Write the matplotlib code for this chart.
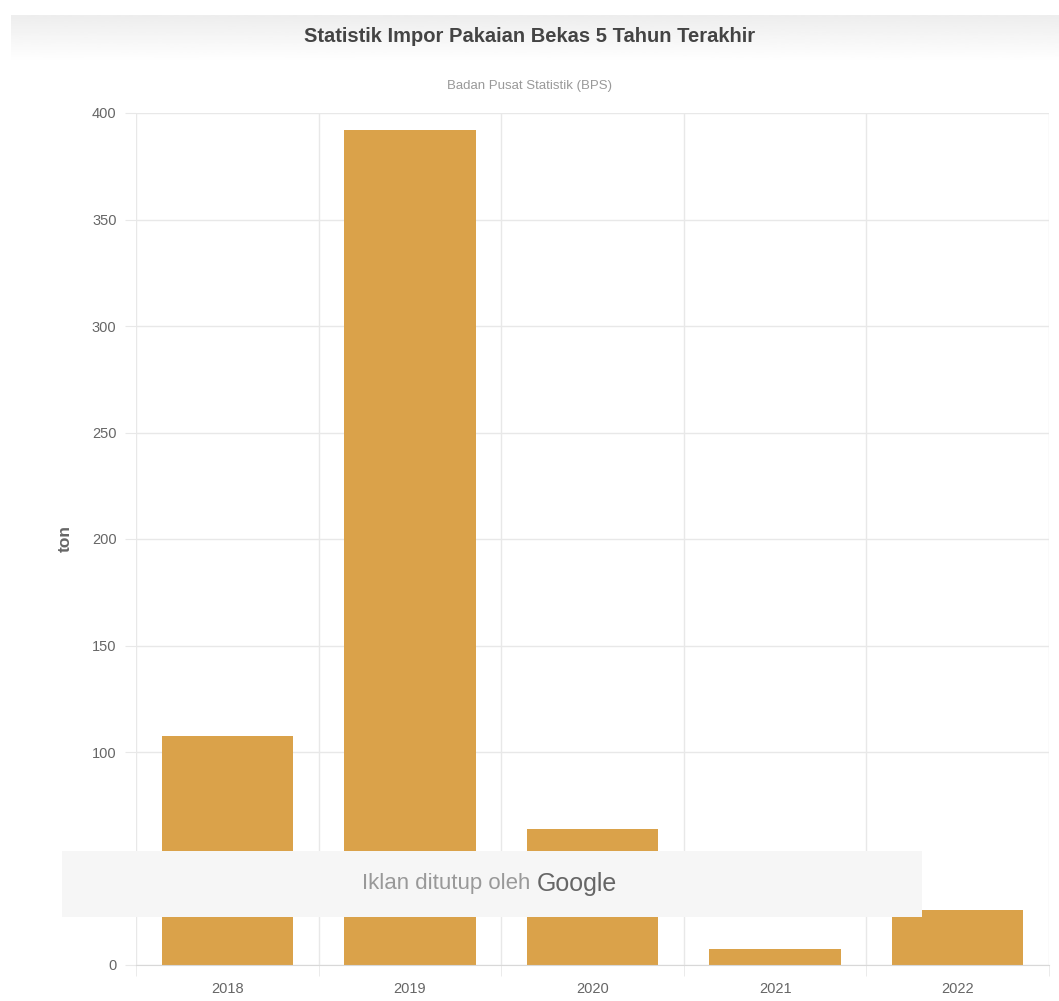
import numpy as np
import matplotlib
matplotlib.use('Agg')
import matplotlib.pyplot as plt
from matplotlib.patches import Rectangle

plt.rcParams['font.family'] = ['Liberation Sans', 'DejaVu Sans']

years = ['2018', '2019', '2020', '2021', '2022']
import_ton = [107.5, 392, 63.8, 7.5, 25.8]
y_ticks = [0, 100, 150, 200, 250, 300, 350, 400]

bar_color = '#DAA24A'
grid_color = '#e8e8e8'
text_grey = '#666666'

fig = plt.figure(figsize=(10.59, 10.01), dpi=100)
fig.patch.set_facecolor('white')

# header band with soft vertical gradient
hdr = fig.add_axes([0.01, 1 - 62 / 1001, 0.99, 47 / 1001])
grad = np.linspace(0.93, 1.0, 100).reshape(-1, 1)
hdr.imshow(grad, aspect='auto', cmap='gray', vmin=0, vmax=1, extent=[0, 1, 0, 1])
hdr.axis('off')

fig.text(0.5, 1 - 37 / 1001, 'Statistik Impor Pakaian Bekas 5 Tahun Terakhir',
         ha='center', va='center', fontsize=14.5, fontweight='bold', color='#444444')
fig.text(0.5, 1 - 86 / 1001, 'Badan Pusat Statistik (BPS)',
         ha='center', va='center', fontsize=9.5, color='#999999')

ax = fig.add_axes([136 / 1059, 1 - 965 / 1001, 913 / 1059, 852 / 1001])
x = np.arange(len(years))
ax.bar(x, import_ton, width=0.72, color=bar_color, zorder=2)

ax.set_xlim(-0.5, len(years) - 0.5)
ax.set_ylim(0, 400)
ax.set_yticks(y_ticks)
ax.set_yticklabels([str(v) for v in y_ticks])
ax.set_xticks(x)
ax.set_xticklabels(years)
ax.set_xticks(np.arange(-0.5, len(years)), minor=True)

ax.grid(axis='y', color=grid_color, lw=1, zorder=0)
ax.grid(axis='x', which='minor', color=grid_color, lw=1, zorder=0)
ax.tick_params(axis='y', length=8, color=grid_color, labelcolor=text_grey,
               labelsize=10.5, pad=6)
ax.tick_params(axis='x', which='major', length=0, labelcolor=text_grey,
               labelsize=10.5, pad=12)
ax.tick_params(axis='x', which='minor', length=8, color=grid_color)
for s in ['top', 'right', 'left']:
    ax.spines[s].set_visible(False)
ax.spines['bottom'].set_color('#d8d8d8')
ax.set_ylabel('ton', fontsize=12.5, fontweight='bold', color=text_grey, labelpad=14)

# closed ad overlay
ad = Rectangle((62 / 1059, 1 - 917 / 1001), 860 / 1059, 66 / 1001,
               transform=fig.transFigure, facecolor='#f6f6f6', edgecolor='none',
               zorder=5)
fig.patches.append(ad)
fig.text(530 / 1059, 1 - 884 / 1001, 'Iklan ditutup oleh', ha='right', va='center',
         fontsize=16, color='#999999', zorder=6)
fig.text(537 / 1059, 1 - 884 / 1001, 'Google', ha='left', va='center',
         fontsize=18, color='#666666', zorder=6)

fig.savefig('out.png', dpi=100)
